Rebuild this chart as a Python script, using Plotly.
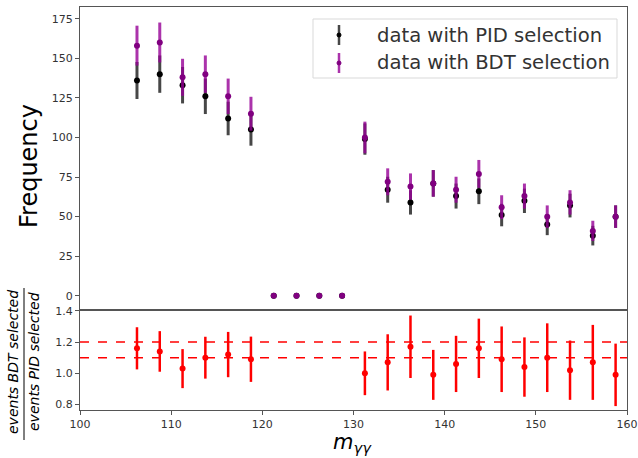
import plotly.graph_objects as go
from plotly.subplots import make_subplots

# ---- data ----
mass = [106.25, 108.75, 111.25, 113.75, 116.25, 118.75, 121.25, 123.75, 126.25, 128.75,
        131.25, 133.75, 136.25, 138.75, 141.25, 143.75, 146.25, 148.75, 151.25, 153.75,
        156.25, 158.75]
pid_counts = [136, 140, 133, 126, 112, 105, 0, 0, 0, 0,
              99, 67, 59, 71, 63, 66, 51, 60, 45, 57, 38, 50]
pid_err = [11.7, 11.8, 11.5, 11.2, 10.6, 10.2, 0, 0, 0, 0,
           9.9, 8.2, 7.7, 8.4, 7.9, 8.1, 7.1, 7.7, 6.7, 7.5, 6.2, 7.1]
bdt_counts = [158, 160, 138, 140, 126, 115, 0, 0, 0, 0,
              100, 72, 69, 71, 67, 77, 56, 63, 50, 59, 41, 50]
bdt_err = [12.6, 12.6, 11.7, 11.8, 11.2, 10.7, 0, 0, 0, 0,
           10.0, 8.5, 8.3, 8.4, 8.2, 8.8, 7.5, 7.9, 7.1, 7.7, 6.4, 7.1]
ratio = [1.16, 1.14, 1.03, 1.10, 1.12, 1.09, None, None, None, None,
         1.00, 1.07, 1.17, 0.99, 1.06, 1.16, 1.09, 1.04, 1.10, 1.02, 1.07, 0.99]
ratio_err = [0.135, 0.13, 0.125, 0.134, 0.145, 0.145, None, None, None, None,
             0.14, 0.18, 0.20, 0.16, 0.18, 0.19, 0.21, 0.19, 0.22, 0.19, 0.24, 0.20]
ref_lines = [1.1, 1.2]
freq_ticks = [0, 25, 50, 75, 100, 125, 150, 175]
ratio_ticks = [0.8, 1.0, 1.2, 1.4]
mass_ticks = [100, 110, 120, 130, 140, 150, 160]
legend_labels = ["data with PID selection", "data with BDT selection"]

FONT = "DejaVu Sans"
AX = "#555555"
TICKC = "#333333"
PURPLE = "#800080"
PURPLE_BAR = "rgba(150,0,150,0.8)"
BLACK_BAR = "rgba(0,0,0,0.72)"

# plot area in pixels: x 80..627, y 7..410
L, R, T, B = 80, 627, 7, 410
def px(xp):
    return (xp - L) / (R - L)
def py(yp):
    return (B - yp) / (B - T)

fig = make_subplots(rows=2, cols=1, shared_xaxes=True, vertical_spacing=0,
                    row_heights=[0.752, 0.248])

fig.add_trace(go.Scatter(
    x=mass, y=pid_counts, mode="markers", name=legend_labels[0],
    marker=dict(color="black", size=6),
    error_y=dict(type="data", array=pid_err, color=BLACK_BAR, thickness=3, width=0),
), row=1, col=1)
fig.add_trace(go.Scatter(
    x=mass, y=bdt_counts, mode="markers", name=legend_labels[1],
    marker=dict(color=PURPLE, size=6),
    error_y=dict(type="data", array=bdt_err, color=PURPLE_BAR, thickness=3, width=0),
), row=1, col=1)
fig.add_trace(go.Scatter(
    x=mass, y=ratio, mode="markers", showlegend=False,
    marker=dict(color="red", size=6),
    error_y=dict(type="data", array=ratio_err, color="red", thickness=2.5, width=0),
), row=2, col=1)

for v in ref_lines:
    fig.add_hline(y=v, line=dict(color="red", width=1.4, dash="dash"), row=2, col=1)

axis_common = dict(showline=True, mirror=True, linecolor=AX, linewidth=1.2,
                   showgrid=False, zeroline=False, ticks="outside", ticklen=4,
                   tickcolor=AX, automargin=False,
                   tickfont=dict(family=FONT, size=11, color=TICKC))

fig.update_xaxes(range=[100, 160], tickvals=mass_ticks, **axis_common)
fig.update_xaxes(showticklabels=False, ticks="", row=1, col=1)
fig.update_yaxes(range=[-9, 182.4], tickvals=freq_ticks, **axis_common, row=1, col=1)
fig.update_yaxes(range=[0.765, 1.405], tickvals=ratio_ticks, tickformat=".1f",
                 **axis_common, row=2, col=1)

# axis titles
annos = [
    dict(text="Frequency", x=px(29), y=py(166), textangle=-90,
         font=dict(family=FONT, size=24, color="black")),
    dict(text="<i>m</i><sub><i>γγ</i></sub>", x=px(352), y=py(443),
         font=dict(family=FONT, size=21, color="black")),
    dict(text="<i>events BDT selected</i>", x=px(13), y=py(362),
         textangle=-90, font=dict(family=FONT, size=14, color="black")),
    dict(text="<i>events PID selected</i>", x=px(34), y=py(362),
         textangle=-90, font=dict(family=FONT, size=14, color="black")),
]
# manual legend (matplotlib-style errorbar glyphs)
leg_rows = [35, 63]
leg_colors = [("black", BLACK_BAR), (PURPLE, PURPLE_BAR)]
for lab, yrow in zip(legend_labels, leg_rows):
    annos.append(dict(text=lab, x=px(375), y=py(yrow), xanchor="left",
                      font=dict(family=FONT, size=19.6, color="#333333")))
for a in annos:
    a.update(xref="paper", yref="paper", showarrow=False, yanchor="middle")
    a.setdefault("xanchor", "center")
    fig.add_annotation(**a)

fig.add_shape(type="line", xref="paper", yref="paper",
              x0=px(24), x1=px(24), y0=py(440), y1=py(288),
              line=dict(color="black", width=1))

fig.add_shape(type="rect", xref="paper", yref="paper",
              x0=px(313), x1=px(617), y0=py(19), y1=py(78),
              line=dict(color="#d9d9d9", width=1), fillcolor="rgba(255,255,255,0.8)")
for (mc, bc), yrow in zip(leg_colors, leg_rows):
    fig.add_shape(type="line", xref="paper", yref="paper",
                  x0=px(339), x1=px(339), y0=py(yrow - 10), y1=py(yrow + 10),
                  line=dict(color=bc, width=2.5))
    fig.add_shape(type="circle", xref="paper", yref="paper",
                  x0=px(337), x1=px(341), y0=py(yrow + 2), y1=py(yrow - 2),
                  line=dict(color=mc, width=1), fillcolor=mc)

fig.update_layout(
    width=638, height=458,
    margin=dict(l=L, r=638 - R, t=T, b=458 - B),
    paper_bgcolor="white", plot_bgcolor="white",
    font=dict(family=FONT),
    showlegend=False,
)

fig.write_html("out.html", config={"displayModeBar": False},
               post_script="document.body.style.margin='0px';")
